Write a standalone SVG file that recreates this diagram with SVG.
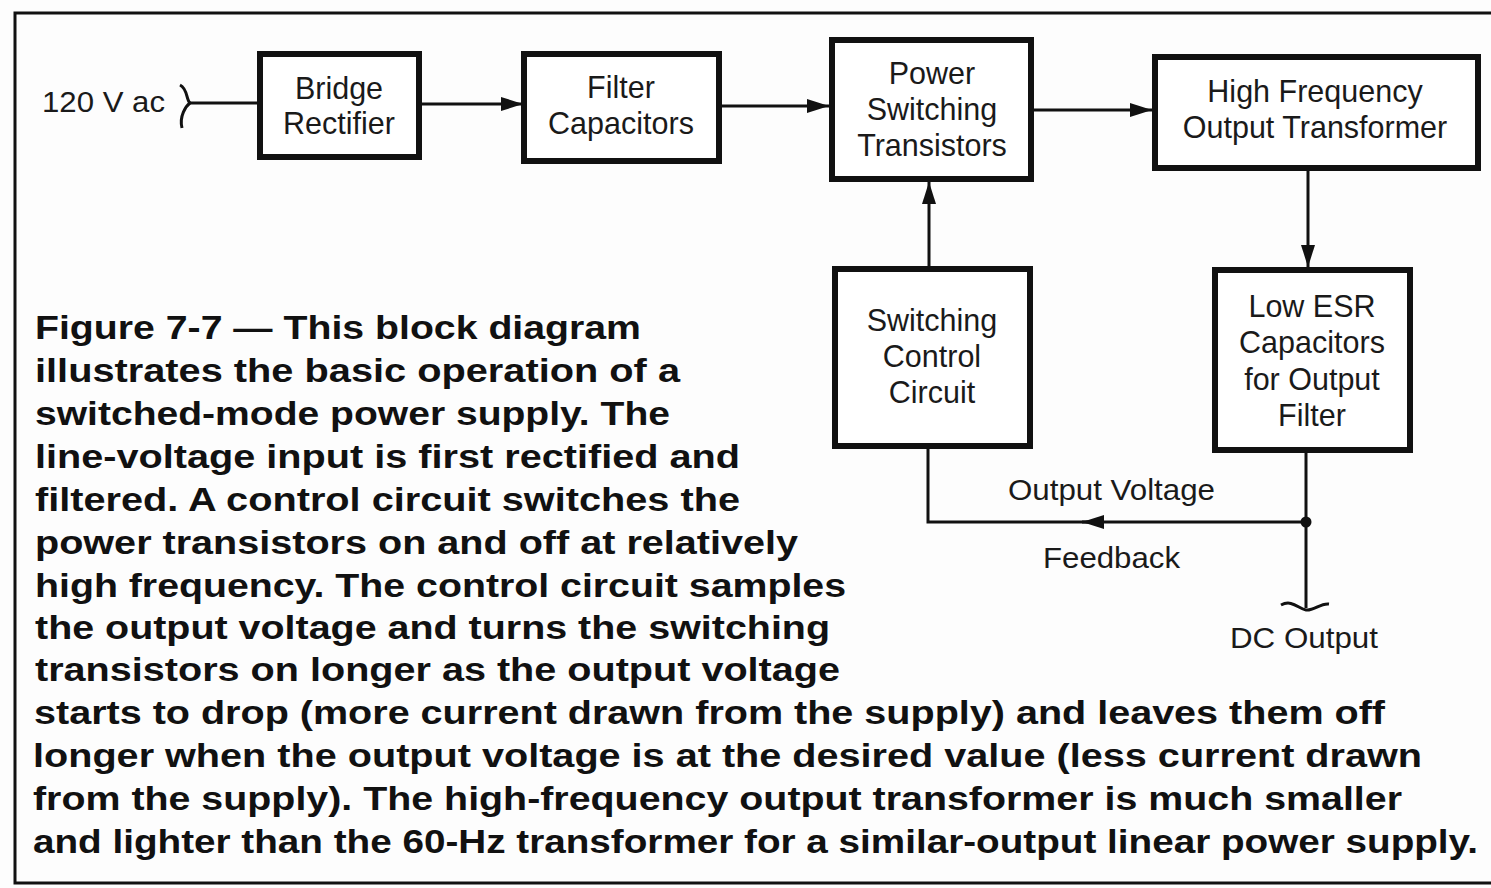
<svg xmlns="http://www.w3.org/2000/svg" width="1491" height="888" viewBox="0 0 1491 888">
<style>
.box{fill:#fff;stroke:#111;stroke-width:6}
.lbl{font-family:"Liberation Sans",Arial,sans-serif;font-size:30.5px;fill:#1a1a1a;text-anchor:middle}
.side{font-family:"Liberation Sans",Arial,sans-serif;font-size:29px;fill:#1a1a1a}
.cap{font-family:"Liberation Sans",Arial,sans-serif;font-size:33px;font-weight:bold;fill:#111}
.wire{fill:none;stroke:#111;stroke-width:3}
.frame{fill:none;stroke:#111;stroke-width:3}
</style>
<defs>
<marker id="arr" markerUnits="userSpaceOnUse" markerWidth="24" markerHeight="16" refX="22" refY="7" orient="auto">
<path d="M0,0 L22,7 L0,14 Z" fill="#111"/>
</marker>
</defs>
<rect width="1491" height="888" fill="#fdfdfd"/>
<g id="frame">
<path class="frame" d="M1491,13 L15,13 L15,883 L1491,883"/>
</g>
<g id="connectors">
<path class="wire" d="M180,85 C188,89 186,100 190,103 C186,106 179,116 182,128" stroke-width="2.5"/>
<line class="wire" x1="190" y1="103" x2="258" y2="103" stroke-width="2.5"/>
<line class="wire" x1="420" y1="104" x2="523" y2="104" marker-end="url(#arr)"/>
<line class="wire" x1="720" y1="106" x2="829" y2="106" marker-end="url(#arr)"/>
<line class="wire" x1="1033" y1="110" x2="1152" y2="110" marker-end="url(#arr)"/>
<line class="wire" x1="1308" y1="170" x2="1308" y2="267" marker-end="url(#arr)"/>
<line class="wire" x1="929" y1="267" x2="929" y2="182" marker-end="url(#arr)"/>
<line class="wire" x1="1306" y1="452" x2="1306" y2="608"/>
<line class="wire" x1="1306" y1="522" x2="1082" y2="522" marker-end="url(#arr)"/>
<path class="wire" d="M1090,522 L928,522 L928,448"/>
<circle cx="1306" cy="522" r="5.5" fill="#111"/>
<path class="wire" d="M1281,605 C1292,599 1299,609 1306,610 C1314,611 1320,603 1329,604"/>
</g>
<g id="n-bridge">
<rect class="box" x="260" y="54" width="159" height="103"/>
<text class="lbl" x="339" y="99">Bridge</text>
<text class="lbl" x="339" y="134">Rectifier</text>
</g>
<g id="n-filter">
<rect class="box" x="524" y="54" width="195" height="107"/>
<text class="lbl" x="621" y="98">Filter</text>
<text class="lbl" x="621" y="134">Capacitors</text>
</g>
<g id="n-power">
<rect class="box" x="832" y="40" width="199" height="139"/>
<text class="lbl" x="932" y="84">Power</text>
<text class="lbl" x="932" y="120">Switching</text>
<text class="lbl" x="932" y="156">Transistors</text>
</g>
<g id="n-hf">
<rect class="box" x="1155" y="57" width="323" height="111"/>
<text class="lbl" x="1315" y="102">High Frequency</text>
<text class="lbl" x="1315" y="138">Output Transformer</text>
</g>
<g id="n-control">
<rect class="box" x="835" y="269" width="195" height="177"/>
<text class="lbl" x="932" y="331">Switching</text>
<text class="lbl" x="932" y="367">Control</text>
<text class="lbl" x="932" y="403">Circuit</text>
</g>
<g id="n-esr">
<rect class="box" x="1215" y="270" width="195" height="180"/>
<text class="lbl" x="1312" y="317">Low ESR</text>
<text class="lbl" x="1312" y="353">Capacitors</text>
<text class="lbl" x="1312" y="390">for Output</text>
<text class="lbl" x="1312" y="426">Filter</text>
</g>
<g id="labels">
<text class="side" x="42" y="112" textLength="123" lengthAdjust="spacingAndGlyphs">120 V ac</text>
<text class="side" x="1008" y="500" textLength="207" lengthAdjust="spacingAndGlyphs">Output Voltage</text>
<text class="side" x="1043" y="568" textLength="137" lengthAdjust="spacingAndGlyphs">Feedback</text>
<text class="side" x="1230" y="648" textLength="148" lengthAdjust="spacingAndGlyphs">DC Output</text>
</g>
<g id="caption">
<text class="cap" x="35" y="339" textLength="606" lengthAdjust="spacingAndGlyphs">Figure 7-7 — This block diagram</text>
<text class="cap" x="35" y="382" textLength="645" lengthAdjust="spacingAndGlyphs">illustrates the basic operation of a</text>
<text class="cap" x="35" y="425" textLength="635" lengthAdjust="spacingAndGlyphs">switched-mode power supply. The</text>
<text class="cap" x="35" y="468" textLength="705" lengthAdjust="spacingAndGlyphs">line-voltage input is first rectified and</text>
<text class="cap" x="35" y="511" textLength="705" lengthAdjust="spacingAndGlyphs">filtered. A control circuit switches the</text>
<text class="cap" x="35" y="554" textLength="763" lengthAdjust="spacingAndGlyphs">power transistors on and off at relatively</text>
<text class="cap" x="35" y="597" textLength="811" lengthAdjust="spacingAndGlyphs">high frequency. The control circuit samples</text>
<text class="cap" x="35" y="639" textLength="795" lengthAdjust="spacingAndGlyphs">the output voltage and turns the switching</text>
<text class="cap" x="35" y="681" textLength="805" lengthAdjust="spacingAndGlyphs">transistors on longer as the output voltage</text>
<text class="cap" x="34" y="724" textLength="1351" lengthAdjust="spacingAndGlyphs">starts to drop (more current drawn from the supply) and leaves them off</text>
<text class="cap" x="33" y="767" textLength="1389" lengthAdjust="spacingAndGlyphs">longer when the output voltage is at the desired value (less current drawn</text>
<text class="cap" x="33" y="810" textLength="1369" lengthAdjust="spacingAndGlyphs">from the supply). The high-frequency output transformer is much smaller</text>
<text class="cap" x="33" y="853" textLength="1445" lengthAdjust="spacingAndGlyphs">and lighter than the 60-Hz transformer for a similar-output linear power supply.</text>
</g>
</svg>
